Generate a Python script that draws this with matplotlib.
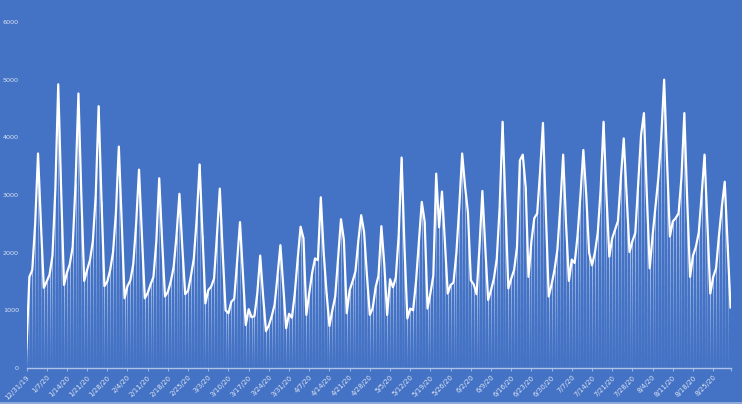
import matplotlib
matplotlib.use('Agg')
import matplotlib.pyplot as plt
import numpy as np
import datetime as dt
from matplotlib.collections import LineCollection

start_date = dt.date(2019, 12, 31)

dec_2019 = [350]
jan_2020 = [1580, 1700, 2500, 3720, 2500, 1390, 1500, 1620, 1950, 3100,
            4920, 3100, 1440, 1650, 1800, 2100, 3200, 4760, 3000, 1510,
            1700, 1870, 2200, 3000, 4540, 2900, 1420, 1500, 1700, 2010, 2700]
feb_2020 = [3840, 2500, 1210, 1420, 1520, 1800, 2500, 3440, 2300, 1210,
            1300, 1450, 1580, 2200, 3290, 2200, 1240, 1320, 1500, 1750,
            2300, 3020, 2100, 1280, 1340, 1600, 1900, 2600, 3530]
mar_2020 = [2300, 1120, 1350, 1410, 1550, 2300, 3110, 2000, 1000, 950,
            1150, 1200, 1850, 2530, 1650, 745, 1020, 880, 900, 1300,
            1950, 1250, 640, 740, 900, 1100, 1600, 2130, 1400, 690, 940]
apr_2020 = [870, 1300, 1900, 2450, 2250, 920, 1300, 1650, 1900, 1870,
            2960, 2000, 1300, 730, 1000, 1240, 1900, 2580, 2220, 950,
            1350, 1500, 1670, 2200, 2650, 2360, 1600, 920, 1040, 1400]
may_2020 = [1600, 2460, 1800, 920, 1540, 1400, 1570, 2300, 3650, 2100,
            860, 1030, 1000, 1500, 2200, 2880, 2540, 1030, 1300, 1600,
            3370, 2440, 3060, 2200, 1290, 1440, 1480, 2000, 2800, 3720, 3150]
jun_2020 = [2700, 1520, 1450, 1280, 2100, 3070, 2100, 1180, 1350, 1550,
            1900, 2800, 4270, 2800, 1380, 1550, 1700, 2100, 3600, 3700,
            3140, 1580, 2200, 2600, 2680, 3400, 4250, 2700, 1240, 1450]
jul_2020 = [1700, 2050, 2800, 3700, 2500, 1510, 1880, 1820, 2300, 3000,
            3780, 3000, 2000, 1780, 2000, 2350, 3100, 4270, 3000, 1930,
            2250, 2400, 2550, 3300, 3980, 3000, 2010, 2200, 2340, 3200, 4040]
aug_2020 = [4420, 3000, 1730, 2300, 2800, 3300, 4000, 5000, 3600, 2280,
            2540, 2600, 2680, 3300, 4420, 2900, 1580, 1950, 2100, 2350,
            3000, 3700, 2500, 1290, 1580, 1730, 2300, 2800, 3230, 2150, 1050]

y_ticks = [0, 1000, 2000, 3000, 4000, 5000, 6000]

values = np.array(dec_2019 + jan_2020 + feb_2020 + mar_2020 + apr_2020 +
                  may_2020 + jun_2020 + jul_2020 + aug_2020, dtype=float)
days = np.arange(len(values))

tick_days = list(range(0, len(values) - 1, 7))
tick_labels = []
for d in tick_days:
    date = start_date + dt.timedelta(days=int(d))
    tick_labels.append(f"{date.month}/{date.day}/{date.strftime('%y')}")

bg = '#4472C4'
txt = '#DCE4F4'

fig = plt.figure(figsize=(7.42, 4.04), dpi=100, facecolor=bg)
ax = fig.add_axes([26.5 / 742, 1 - 368 / 404, (730.5 - 26.5) / 742, (368 - 22) / 404])
ax.set_facecolor(bg)

# gradient drop lines
N = 14
segs = []
cols = []
for x, v in zip(days, values):
    for k in range(N):
        y0 = v * k / N
        y1 = v * (k + 1) / N
        segs.append([(x, y0), (x, y1)])
        a = 0.03 + 0.55 * ((k + 0.5) / N) ** 1.3
        cols.append((1, 1, 1, a))
lc = LineCollection(segs, colors=cols, linewidths=0.7, capstyle='butt')
ax.add_collection(lc)

ax.plot(days, values, color='white', lw=1.6, solid_joinstyle='round', zorder=3)

ax.set_xlim(0, len(values) - 1)
ax.set_ylim(0, 6000)
ax.set_yticks(y_ticks)
ax.set_yticklabels([str(t) for t in y_ticks])
ax.set_xticks(tick_days + [len(values) - 1])
ax.set_xticklabels(tick_labels + [''])

for s in ['top', 'right', 'left']:
    ax.spines[s].set_visible(False)
ax.spines['bottom'].set_color('#AFC3E8')
ax.spines['bottom'].set_linewidth(1.0)

ax.tick_params(axis='y', length=0, pad=5.5, labelsize=4.6, labelcolor=txt)
ax.tick_params(axis='x', length=2.5, width=0.6, color='#AFC3E8', pad=2,
               labelsize=5.0, labelcolor=txt)
for lab in ax.get_xticklabels():
    lab.set_rotation(45)
    lab.set_ha('right')
    lab.set_va('top')
    lab.set_rotation_mode('anchor')

# chart border line at bottom
fig.add_artist(plt.Line2D([0, 1], [0.003, 0.003], transform=fig.transFigure,
                          color='#9DB4E2', lw=1.2))

fig.savefig('out.png', dpi=100, facecolor=bg)
